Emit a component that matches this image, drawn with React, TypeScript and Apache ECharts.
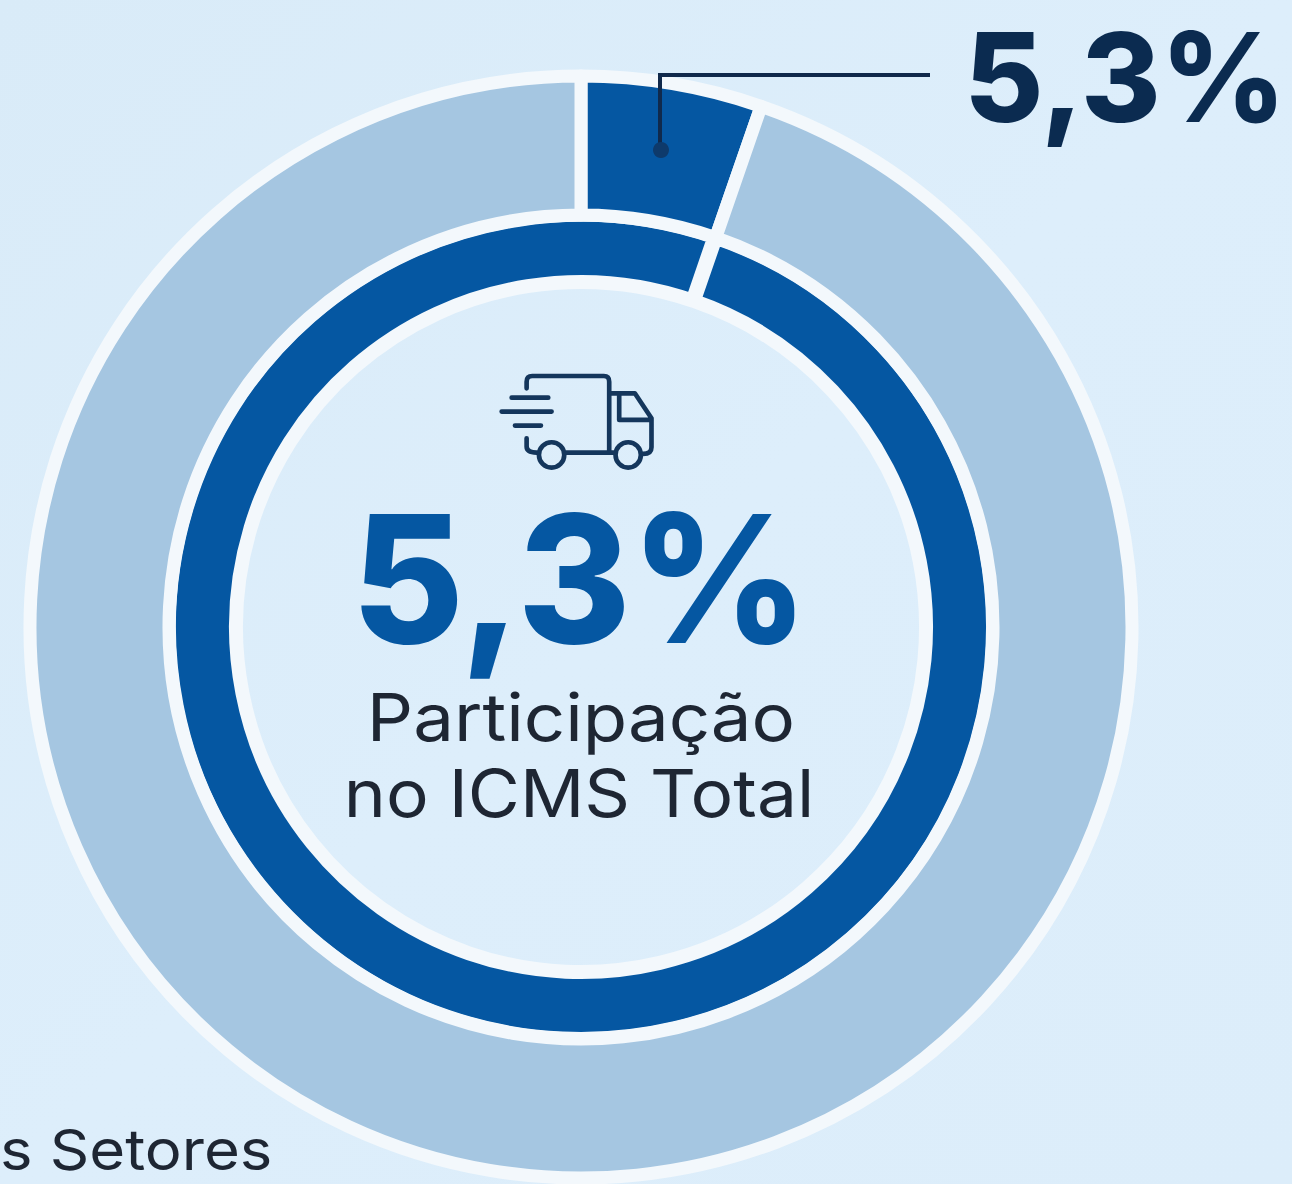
import React, { useEffect, useRef } from "react";
import * as echarts from "echarts";

const categories = ["Transporte", "Demais Setores"];
const shareValues = [5.3, 94.7];
const innerRingValues = [100];
const headline = "5,3%";
const centerLines = ["Participação", "no ICMS Total"];
const cornerLabel = "s Setores";

const TRUCK =
  "M140 85 V65 Q140 48 157 48 H372 Q388 48 388 65 V278 " +
  "M140 235 V260 Q140 278 170 278 H177 M253 278 H407 " +
  "M388 100 H465 L515 175 V262 Q515 282 490 282 H483 " +
  "M418 105 V180 H512 " +
  "M253 285 A38 38 0 1 1 177 285 A38 38 0 1 1 253 285 " +
  "M483 285 A38 38 0 1 1 407 285 A38 38 0 1 1 483 285 " +
  "M95 113 H205 M65 155 H215 M105 197 H183";

echarts.graphic.registerShape("truck", echarts.graphic.extendPath(TRUCK, {}));

export default function App() {
  const ref = useRef<HTMLDivElement>(null);
  useEffect(() => {
    document.body.style.margin = "0";
    document.body.style.overflow = "hidden";
    const chart = echarts.init(ref.current!, undefined, { renderer: "svg" });
    const gap = (360 * shareValues[0]) / 100;
    chart.setOption({
      animation: false,
      backgroundColor: {
        type: "linear",
        x: 0, y: 0, x2: 1, y2: 1,
        colorStops: [
          { offset: 0, color: "#D9EBF8" },
          { offset: 0.5, color: "#DDEEFB" },
          { offset: 1, color: "#DCEDFA" },
        ],
      },
      series: [
        {
          type: "pie",
          silent: true,
          center: [581, 627],
          radius: [345, 412],
          startAngle: 90 - gap,
          endAngle: 90 - gap - 359.8,
          label: { show: false },
          labelLine: { show: false },
          itemStyle: { color: "#0557A2", borderColor: "#F3F8FC", borderWidth: 14 },
          data: innerRingValues.map((value) => ({ value, name: "Total" })),
        },
        {
          type: "pie",
          silent: true,
          center: [581, 627],
          radius: [412, 551],
          startAngle: 90,
          clockwise: true,
          label: { show: false },
          labelLine: { show: false },
          itemStyle: { borderColor: "#F3F8FC", borderWidth: 13 },
          data: categories.map((name, i) => ({
            name,
            value: shareValues[i],
            itemStyle: { color: i === 0 ? "#0557A2" : "#A5C6E1" },
          })),
        },
      ],
      graphic: [
        {
          type: "polyline",
          shape: { points: [[930, 75], [660, 75], [660, 150]] },
          style: { stroke: "#10294B", lineWidth: 4, fill: null },
          z: 10,
        },
        {
          type: "circle",
          shape: { cx: 661, cy: 150, r: 8 },
          style: { fill: "#0E3A6B" },
          z: 10,
        },
        {
          type: "truck",
          x: 480,
          y: 360,
          scaleX: 1 / 3,
          scaleY: 1 / 3,
          style: { stroke: "#14365C", lineWidth: 14, fill: null, lineCap: "round", lineJoin: "round" },
          z: 10,
        },
        {
          type: "text",
          x: 1125,
          y: 77,
          scaleX: 0.98,
          z: 10,
          style: {
            text: headline,
            align: "center",
            verticalAlign: "middle",
            lineHeight: 110,
            fill: "#0B2B50",
            font: '800 124px Inter, sans-serif',
          },
        },
        {
          type: "text",
          x: 580,
          y: 578,
          scaleX: 0.97,
          z: 10,
          style: {
            text: headline,
            align: "center",
            verticalAlign: "middle",
            lineHeight: 150,
            fill: "#0557A2",
            font: '800 178px Inter, sans-serif',
          },
        },
        {
          type: "text",
          x: 581,
          y: 717,
          scaleX: 1.1,
          z: 10,
          style: {
            text: centerLines[0],
            align: "center",
            verticalAlign: "middle",
            fill: "#1E2633",
            font: '400 66px Inter, sans-serif',
          },
        },
        {
          type: "text",
          x: 579,
          y: 793,
          scaleX: 1.08,
          z: 10,
          style: {
            text: centerLines[1],
            align: "center",
            verticalAlign: "middle",
            fill: "#1E2633",
            font: '400 66px Inter, sans-serif',
          },
        },
        {
          type: "text",
          x: 0,
          y: 1150,
          scaleX: 1.1,
          z: 10,
          style: {
            text: cornerLabel,
            align: "left",
            verticalAlign: "middle",
            lineHeight: 56,
            fill: "#1E2633",
            font: '400 56px Inter, sans-serif',
          },
        },
      ],
    });
    return () => chart.dispose();
  }, []);
  return <div ref={ref} style={{ position: "absolute", left: 0, top: 0, width: 1292, height: 1184 }} />;
}
